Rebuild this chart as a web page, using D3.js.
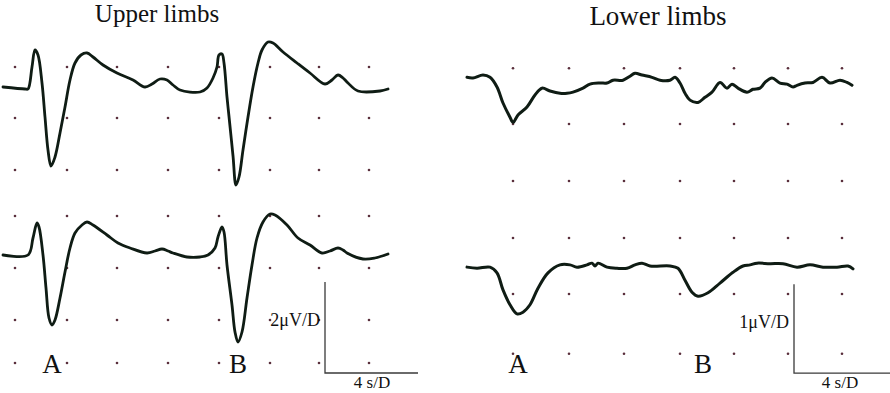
<!DOCTYPE html>
<html><head><meta charset="utf-8">
<script src="https://cdn.jsdelivr.net/npm/d3@7"></script>
<style>html,body{margin:0;padding:0;background:#fff;}svg{display:block;}</style>
</head><body>
<svg id="chart" width="890" height="393"></svg>
<script>
// ---------- DATA ----------
// Upper limbs (time in s, amplitude in µV)
const upperTopT = [0,2.2,2.5,2.9,3.2,3.5,3.9,4.2,4.5,4.8,5.2,5.7,6.2,6.7,7.2,7.8,8.4,9.0,10.0,11.4,13.0,14.2,14.9,15.7,16.4,17.0,17.7,19.7,20.4,21.0,21.4,21.6,21.9,22.1,22.4,22.6,23.0,23.3,23.6,24.0,24.5,25.0,25.5,25.9,26.5,27.0,28.0,29.4,30.7,32.2,32.9,33.5,34.0,34.5,35.5,37.7,38.5];
const upperTopV = [0.08,0,0,0.88,1.56,1.36,0.24,-1.12,-2.44,-3.08,-2.72,-1.76,-0.72,0.36,1.04,1.36,1.44,1.28,0.96,0.64,0.36,0.08,0.2,0.4,0.36,0.16,-0.04,-0.12,0.04,0.44,0.88,1.36,1.4,1.04,-0.32,-1.10,-2.67,-3.84,-3.52,-2.44,-1.12,0.08,1.04,1.56,1.88,1.84,1.48,1.04,0.64,0.2,0.36,0.56,0.44,0.24,-0.08,-0.08,0];
const upperBotT = [0,2.5,3.0,3.4,3.6,4.0,4.3,4.6,4.9,5.2,5.7,6.2,6.7,7.2,7.9,8.4,9.0,10.4,11.5,12.7,14.4,15.2,15.9,16.5,17.0,18.4,19.7,20.5,21.2,21.5,21.9,22.1,22.4,22.9,23.2,23.5,23.9,24.4,24.9,25.4,26.0,26.7,27.2,28.4,29.5,30.7,31.9,32.7,33.5,34.0,34.4,36.0,37.2,38.5];
const upperBotV = [0.04,0.04,0.72,1.32,1.16,0.04,-1.28,-2.48,-2.76,-2.56,-1.68,-0.64,0.32,0.92,1.24,1.36,1.24,0.84,0.52,0.32,0.12,0.2,0.28,0.2,0.12,-0.04,-0.04,0.04,0.32,0.76,1.16,0.96,-0.36,-1.96,-3.04,-3.44,-3.04,-1.68,-0.36,0.72,1.36,1.68,1.64,1.24,0.72,0.44,0.12,0.2,0.32,0.24,0.12,-0.12,-0.08,0.08];
const upperGridT = [1.2,6.4,11.4,16.5,21.6,26.7,31.6,36.6];
const upperGridV = [7.56,5.52,3.44,1.6,-0.48,-2.56,-4.28];

// Lower limbs
const lowerTopT = [0,0.6,1.6,2.3,3.0,3.6,4.3,4.6,5.1,6.0,6.8,7.5,8.3,9.3,10.0,10.6,11.6,12.3,13.3,14.0,14.6,15.6,16.3,16.8,17.5,18.5,19.3,20.3,20.8,21.3,21.8,22.3,23.1,23.8,24.5,25.3,26.0,26.5,27.1,28.0,28.6,29.3,29.8,30.5,31.3,32.0,32.6,33.0,33.8,34.6,35.5,36.3,37.3,38.0,38.5];
const lowerTopV = [0.05,0.04,0.09,0.05,-0.12,-0.40,-0.65,-0.74,-0.61,-0.47,-0.26,-0.14,-0.19,-0.23,-0.23,-0.21,-0.14,-0.07,-0.05,-0.05,0,0,0.07,0.12,0.09,0.05,0,0,0.05,-0.05,-0.23,-0.35,-0.39,-0.30,-0.21,-0.04,-0.14,-0.07,-0.14,-0.21,-0.16,-0.14,-0.04,0.04,-0.05,-0.07,-0.12,-0.09,-0.05,-0.04,0.05,-0.05,0,-0.04,-0.09];
const lowerBotT = [0,1.0,2.3,3.0,3.6,4.3,5.0,5.6,6.3,7.1,8.1,9.3,10.3,11.0,12.0,12.5,12.8,13.1,14.0,15.0,16.0,16.8,17.5,18.3,20.3,21.1,21.8,22.5,23.1,24.1,25.3,26.6,27.6,28.3,29.0,30.3,31.6,33.0,34.3,35.6,37.0,38.1,38.6];
const lowerBotV = [-0.02,-0.04,-0.02,-0.12,-0.42,-0.68,-0.84,-0.81,-0.68,-0.39,-0.12,0.02,0.02,-0.02,0.02,0.05,0,0.05,-0.02,-0.04,-0.04,0.02,0.05,0,0,-0.04,-0.25,-0.46,-0.53,-0.47,-0.30,-0.11,0,0.02,0.05,0.04,0.04,-0.02,0.02,-0.02,-0.02,0,-0.05];
const lowerGridT = [4.6,10.2,15.7,21.3,26.7,32.1,37.5];
const lowerGridV = [3.47,2.49,1.49,0.49,-0.49,-1.54];

const panelTitles = ["Upper limbs", "Lower limbs"];
const traceLabels = ["A", "B"];
const upperLabelT = [4.9, 23.5];
const lowerLabelT = [5.1, 23.6];
const scaleLabels = [["2\u03bcV/D", "4 s/D"], ["1\u03bcV/D", "4 s/D"]];

// ---------- DRAW ----------
const svg = d3.select("#chart");
const font = "'Liberation Serif','Times New Roman',serif";
const traceColor = "#0f1c14";
const dotColor = "#5a2f3c";

function panel(cfg) {
  const g = svg.append("g");
  const x = d3.scaleLinear().domain(cfg.xDomain).range(cfg.xRange);
  const y = d3.scaleLinear().domain([0, 1]).range(cfg.yRange);

  // grid dots
  const cells = d3.cross(cfg.gridT, cfg.gridV);
  g.append("g").selectAll("circle").data(cells).join("circle")
    .attr("cx", d => x(d[0])).attr("cy", d => y(d[1]))
    .attr("r", 1.3).attr("fill", dotColor);

  const line = d3.line().x(d => x(d[0])).y(d => y(d[1])).curve(d3.curveCatmullRom.alpha(0.5));
  cfg.traces.forEach(tr => {
    const pts = tr.t.map((t, i) => [t, tr.v[i] + tr.offset]);
    g.append("path").attr("d", line(pts)).attr("fill", "none")
      .attr("stroke", traceColor).attr("stroke-width", cfg.sw)
      .attr("stroke-linejoin", "round").attr("stroke-linecap", "round");
  });

  // scale bar
  const sb = cfg.scaleBar;
  g.append("path")
    .attr("d", `M${x(sb.t0)},${y(sb.v0)}V${y(sb.v1)}H${x(sb.t1)}`)
    .attr("fill", "none").attr("stroke", "#3a3a3a").attr("stroke-width", 1.3);
  g.append("text").attr("x", x(sb.t0) - 5).attr("y", y(sb.v0) + 44)
    .attr("text-anchor", "end").attr("font-family", font).attr("font-size", 18)
    .attr("fill", "#111").text(cfg.scaleText[0]);
  g.append("text").attr("x", x(sb.t0) + cfg.sTextDx).attr("y", y(sb.v1) + 15)
    .attr("text-anchor", "middle").attr("font-family", font).attr("font-size", 17)
    .attr("fill", "#111").text(cfg.scaleText[1]);

  // title
  g.append("text").attr("x", cfg.titleX).attr("y", cfg.titleY)
    .attr("text-anchor", "middle").attr("font-family", font).attr("font-size", cfg.titleSize)
    .attr("fill", "#111").text(cfg.title);

  // A / B labels
  g.selectAll("text.lab").data(cfg.labelT).join("text").attr("class", "lab")
    .attr("x", d => x(d)).attr("y", y(sb.v1))
    .attr("text-anchor", "middle").attr("font-family", font).attr("font-size", 27)
    .attr("fill", "#111").text((d, i) => traceLabels[i]);
}

panel({
  xDomain: [0, 38.5], xRange: [3, 388], yRange: [256, 231],
  gridT: upperGridT, gridV: upperGridV, sw: 2.8,
  traces: [{t: upperTopT, v: upperTopV, offset: 6.68}, {t: upperBotT, v: upperBotV, offset: 0}],
  scaleBar: {t0: 32.2, t1: 41.5, v0: -1.04, v1: -4.68},
  scaleText: scaleLabels[0], sTextDx: 47,
  title: panelTitles[0], titleX: 157, titleY: 22, titleSize: 25,
  labelT: upperLabelT
});

panel({
  xDomain: [0, 38.6], xRange: [467, 853], yRange: [266, 209],
  gridT: lowerGridT, gridV: lowerGridV, sw: 3,
  traces: [{t: lowerTopT, v: lowerTopV, offset: 3.26}, {t: lowerBotT, v: lowerBotV, offset: 0}],
  scaleBar: {t0: 32.7, t1: 42.3, v0: -0.32, v1: -1.88},
  scaleText: scaleLabels[1], sTextDx: 46,
  title: panelTitles[1], titleX: 658, titleY: 25, titleSize: 27,
  labelT: lowerLabelT
});
</script>
</body></html>
